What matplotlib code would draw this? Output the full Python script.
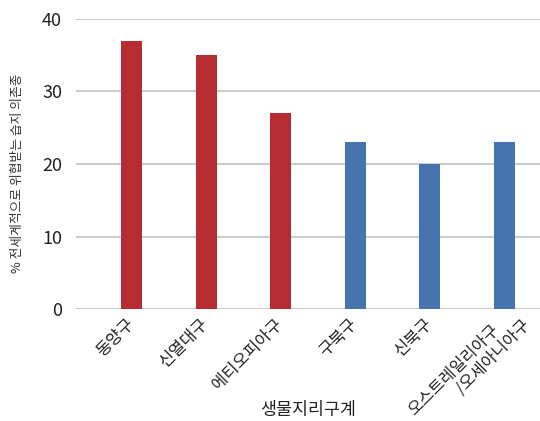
import matplotlib
matplotlib.use("Agg")
import matplotlib.pyplot as plt

plt.rcParams["font.family"] = ["Noto Sans CJK KR", "DejaVu Sans"]

# --- データ ---
regions = ["동양구", "신열대구", "에티오피아구", "구북구", "신북구",
           "오스트레일리아구\n\u3000\u3000\u3000/오세아니아구"]
percent = [37, 35, 27, 23, 20, 23]
bar_colors = ["#B52D33", "#B52D33", "#B52D33", "#4674AE", "#4674AE", "#4674AE"]

fig = plt.figure(figsize=(5.4, 4.21), dpi=100)
ax = fig.add_axes([0.1407, 0.266, 0.8593, 0.6889])

x = list(range(len(regions)))
ax.bar(x, percent, width=0.28, color=bar_colors, zorder=3)

ax.set_ylim(0, 40)
ax.set_yticks([0, 10, 20, 30, 40])
ax.set_xlim(-0.744, 5.476)
ax.set_xticks(x)
# 最後の2行ラベルは別に配置するので空にしておく
ax.set_xticklabels(regions[:-1] + [""], rotation=45, ha="right", va="center",
                   rotation_mode="anchor", fontsize=12, color="#222222")
ax.tick_params(axis="y", labelsize=13, colors="#222222", length=0, pad=10)
ax.tick_params(axis="x", length=0, pad=9)

# 2行ラベル（Excel風に右へずれる）
ax.annotate(regions[-1], xy=(x[-1], 0), xycoords=("data", "axes fraction"),
            xytext=(12, -5), textcoords="offset points",
            rotation=45, ha="right", va="center", rotation_mode="anchor",
            multialignment="left", linespacing=1.05,
            fontsize=11.8, color="#222222", annotation_clip=False)

ax.grid(axis="y", color="#CCCCCC", lw=1.5, zorder=0)
for s in ax.spines.values():
    s.set_visible(False)

ax.set_xlabel("생물지리구계", fontsize=12.5, color="#222222", va="center")
ax.xaxis.set_label_coords(0.5, -0.348)
ax.set_ylabel("% 전세계적으로 위협받는 습지 의존종", fontsize=9.2, color="#333333",
              va="center")
ax.yaxis.set_label_coords(-0.127, 0.467)

fig.savefig("out.png", dpi=100)
